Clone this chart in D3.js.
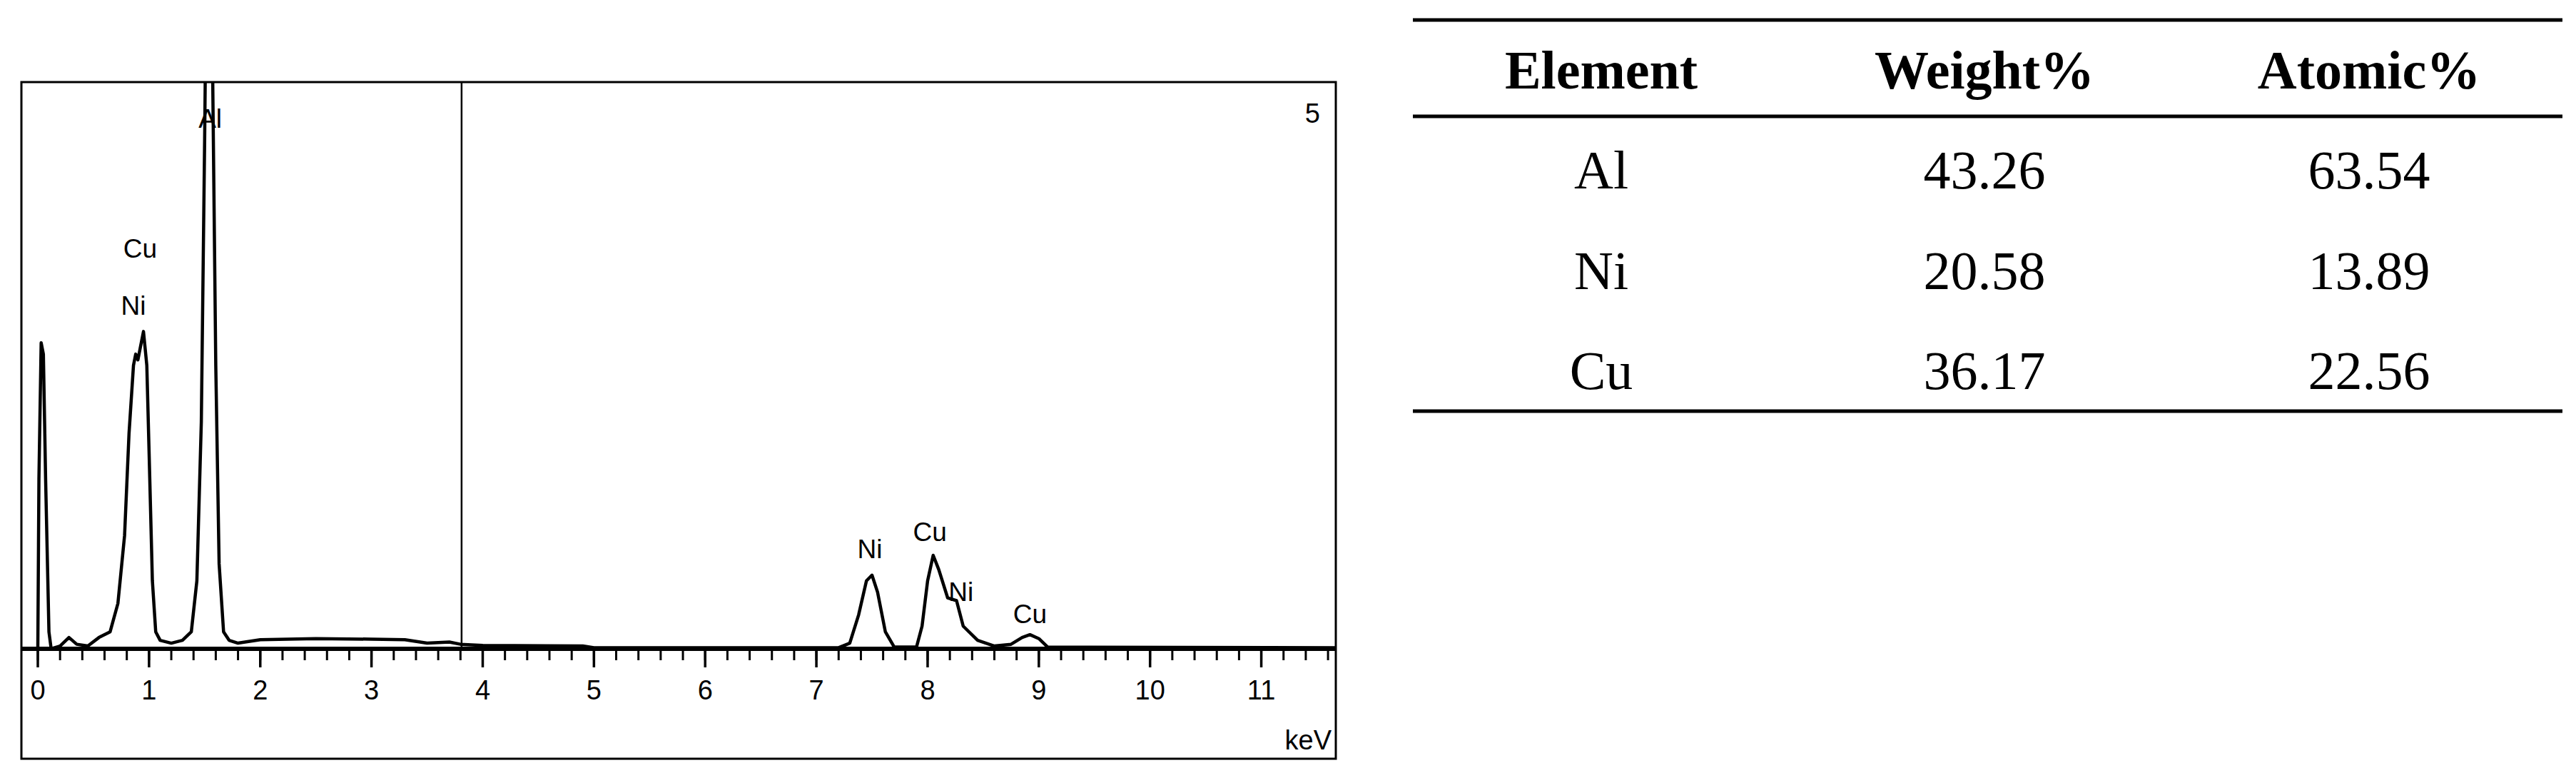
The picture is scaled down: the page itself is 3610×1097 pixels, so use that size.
<!DOCTYPE html>
<html><head><meta charset="utf-8">
<script src="https://cdn.jsdelivr.net/npm/d3@7"></script>
<style>body{margin:0;background:#fff}</style>
</head><body>
<svg id="chart" width="3610" height="1097"></svg>
<script>
// EDS spectrum (keV, relative counts; 100 = top of frame)
const energies = [0,0.01,0.03,0.05,0.07,0.1,0.12,0.2,0.28,0.35,0.45,0.55,0.65,0.72,0.78,0.82,0.86,0.88,0.9,0.92,0.95,0.98,1.0,1.03,1.06,1.1,1.2,1.3,1.38,1.43,1.47,1.5,1.52,1.55,1.57,1.6,1.63,1.67,1.72,1.8,2.0,2.5,3.0,3.3,3.5,3.7,3.8,4.0,4.9,5.0,6.0,7.2,7.3,7.38,7.45,7.5,7.55,7.62,7.7,7.9,7.95,8.0,8.05,8.1,8.18,8.26,8.32,8.45,8.6,8.75,8.85,8.92,9.0,9.08,11.67];
const counts = [0,30,54,52,30,3,0,0.5,2,0.8,0.5,2,3,8,20,38,50,52,51,53,56,50,35,12,3,1.5,1,1.5,3,12,40,90,130,130,105,50,15,3,1.5,1,1.6,1.8,1.7,1.6,1,1.2,0.8,0.6,0.5,0.2,0.2,0.2,1,6,12,13,10,3,0.3,0.3,4,12,16.5,14,9,8.5,4,1.5,0.5,0.8,2,2.5,1.8,0.3,0.2];
const peakLabels = ["Al","Cu","Ni","Ni","Cu","Ni","Cu"];
const peakX = [1.55,0.92,0.86,7.48,8.02,8.3,8.92];
const peakY = [92,69,59,16,19,8.5,4.5];
const markerKeV = 3.81;
const xTicks = [0,1,2,3,4,5,6,7,8,9,10,11];

const elements = ["Al","Ni","Cu"];
const weightPct = ["43.26","20.58","36.17"];
const atomicPct = ["63.54","13.89","22.56"];
const headers = ["Element","Weight%","Atomic%"];

const svg = d3.select("#chart");
const sans = "Liberation Sans, Arial, sans-serif";

// spectrum panel
const frame = {l: 30, r: 1872, t: 115, b: 1063};
const base = 909;
const x = d3.scaleLinear().domain([0, 11.67]).range([53, frame.r]);
const y = d3.scaleLinear().domain([0, 100]).range([base, frame.t]);

svg.append("rect").attr("x", frame.l).attr("y", frame.t)
  .attr("width", frame.r - frame.l).attr("height", frame.b - frame.t)
  .attr("fill", "none").attr("stroke", "#000").attr("stroke-width", 3);

svg.append("clipPath").attr("id", "clip").append("rect")
  .attr("x", frame.l).attr("y", frame.t).attr("width", frame.r - frame.l).attr("height", base - frame.t);

svg.append("line").attr("x1", x(markerKeV)).attr("x2", x(markerKeV))
  .attr("y1", frame.t).attr("y2", base).attr("stroke", "#000").attr("stroke-width", 2.5);

const pts = energies.map((e, i) => [e, counts[i]]);
svg.append("path").datum(pts)
  .attr("clip-path", "url(#clip)")
  .attr("d", d3.line().x(d => x(d[0])).y(d => y(d[1])))
  .attr("fill", "none").attr("stroke", "#000").attr("stroke-width", 4.5).attr("stroke-linejoin", "round");

// axis
const minor = d3.range(0, 11.61, 0.2);
const axisG = svg.append("g");
axisG.selectAll("line.minor").data(minor).join("line")
  .attr("x1", d => x(d)).attr("x2", d => x(d))
  .attr("y1", base).attr("y2", base + 16).attr("stroke", "#000").attr("stroke-width", 3);
axisG.selectAll("line.major").data(xTicks).join("line")
  .attr("x1", d => x(d)).attr("x2", d => x(d))
  .attr("y1", base).attr("y2", base + 26).attr("stroke", "#000").attr("stroke-width", 3.5);
axisG.append("line").attr("x1", frame.l).attr("x2", frame.r)
  .attr("y1", base).attr("y2", base).attr("stroke", "#000").attr("stroke-width", 6);
axisG.selectAll("text").data(xTicks).join("text")
  .attr("x", d => x(d)).attr("y", 980).attr("text-anchor", "middle")
  .attr("font-family", sans).attr("font-size", 38)
  .text(d => d);
svg.append("text").attr("x", frame.r - 6).attr("y", 1050).attr("text-anchor", "end")
  .attr("font-family", sans).attr("font-size", 38).text("keV");
svg.append("text").attr("x", frame.r - 22).attr("y", 172).attr("text-anchor", "end")
  .attr("font-family", sans).attr("font-size", 38).text("5");

svg.selectAll("text.peak").data(peakLabels).join("text")
  .attr("x", (d, i) => x(peakX[i])).attr("y", (d, i) => y(peakY[i]))
  .attr("text-anchor", "middle")
  .attr("font-family", sans).attr("font-size", 37)
  .text(d => d);

// table
const colX = [2244, 2781, 3320];
const tl = 1980, tr = 3591;
const serif = "Palatino Linotype, Liberation Serif, DejaVu Serif, serif";
[28, 163, 576].forEach(yy => svg.append("line").attr("x1", tl).attr("x2", tr)
  .attr("y1", yy).attr("y2", yy).attr("stroke", "#000").attr("stroke-width", 5));
svg.selectAll("text.hdr").data(headers).join("text")
  .attr("x", (d, i) => colX[i]).attr("y", 124).attr("text-anchor", "middle")
  .attr("font-family", serif).attr("font-weight", "bold").attr("font-size", 76).text(d => d);
const rowY = [264, 405, 545];
elements.forEach((el, r) => {
  [el, weightPct[r], atomicPct[r]].forEach((v, c) => {
    svg.append("text").attr("x", colX[c]).attr("y", rowY[r]).attr("text-anchor", "middle")
      .attr("font-family", serif).attr("font-size", 76).text(v);
  });
});
</script>
</body></html>
